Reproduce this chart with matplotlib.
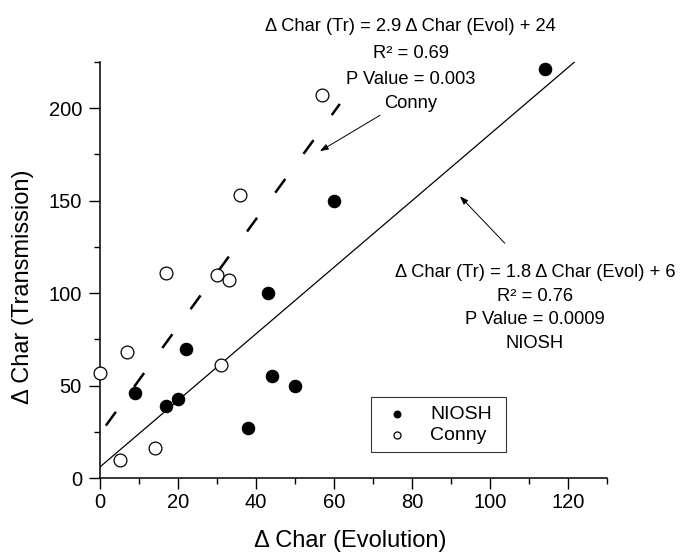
import matplotlib
matplotlib.use("Agg")
import matplotlib.pyplot as plt
import numpy as np
from matplotlib.ticker import MultipleLocator

plt.rcParams['font.family'] = ['Liberation Sans', 'DejaVu Sans']

# NIOSH samples
niosh_x = [9, 17, 20, 22, 38, 43, 44, 50, 60, 114]
niosh_y = [46, 39, 43, 70, 27, 100, 55, 50, 150, 221]

# Conny samples
conny_x = [0, 5, 7, 14, 17, 30, 31, 33, 36, 57]
conny_y = [57, 10, 68, 16, 111, 110, 61, 107, 153, 207]

# Regression fits: (slope, intercept, x range drawn)
niosh_fit = (1.8, 6, (0, 122))
conny_fit = (2.9, 24, (1.5, 61.5))

fig = plt.figure(figsize=(6.96, 5.55), dpi=100)
ax = fig.add_axes([0.1437, 0.1387, 0.7284, 0.7495])

ax.set_xlim(0, 130)
ax.set_ylim(0, 225)

# fit lines
xs = np.linspace(*niosh_fit[2], 50)
ax.plot(xs, niosh_fit[0] * xs + niosh_fit[1], color='black', lw=0.9, zorder=2)
xc = np.linspace(*conny_fit[2], 50)
ax.plot(xc, conny_fit[0] * xc + conny_fit[1], color='black', lw=1.8,
        linestyle=(0, (6.8, 12.4)), solid_capstyle='butt', dash_capstyle='butt', zorder=2)

ax.scatter(niosh_x, niosh_y, s=80, facecolor='black', edgecolor='black',
           linewidth=0.8, label='NIOSH', zorder=3, clip_on=False)
ax.scatter(conny_x, conny_y, s=85, facecolor='white', edgecolor='black',
           linewidth=0.9, label='Conny', zorder=3, clip_on=False)

# spines and ticks
for side in ('top', 'right'):
    ax.spines[side].set_visible(False)
for side in ('left', 'bottom'):
    ax.spines[side].set_linewidth(1.1)

ax.xaxis.set_major_locator(MultipleLocator(20))
ax.xaxis.set_minor_locator(MultipleLocator(10))
ax.yaxis.set_major_locator(MultipleLocator(50))
ax.yaxis.set_minor_locator(MultipleLocator(25))
ax.tick_params(which='major', direction='out', length=8, width=1.0, labelsize=14.5)
ax.tick_params(which='minor', direction='out', length=4, width=1.0)
ax.tick_params(axis='x', which='major', pad=3)
ax.tick_params(axis='y', which='major', pad=5)

ax.set_xlabel('Δ Char (Evolution)', fontsize=17)
ax.set_ylabel('Δ Char (Transmission)', fontsize=17)
ax.xaxis.set_label_coords(0.493, -0.125)
ax.yaxis.set_label_coords(-0.13, 0.459)

# annotations
txt_kw = dict(ha='center', va='center', fontsize=13.2, clip_on=False)
top_lines = ['Δ Char (Tr) = 2.9 Δ Char (Evol) + 24', 'R² = 0.69',
             'P Value = 0.003', 'Conny']
top_y = [244.3, 229.7, 215.7, 202.6]
for t, y in zip(top_lines, top_y):
    ax.text(79.7, y, t, **txt_kw)

bot_lines = ['Δ Char (Tr) = 1.8 Δ Char (Evol) + 6', 'R² = 0.76',
             'P Value = 0.0009', 'NIOSH']
bot_y = [111.4, 98.4, 85.9, 73.0]
for t, y in zip(bot_lines, bot_y):
    ax.text(111.5, y, t, **txt_kw)

arrow_kw = dict(arrowstyle='-|>,head_length=0.5,head_width=0.18', color='black',
                lw=0.7, shrinkA=0, shrinkB=0)
ax.annotate('', xy=(56.4, 176.8), xytext=(71.8, 196.2), arrowprops=arrow_kw)
ax.annotate('', xy=(92.3, 152.4), xytext=(103.8, 127.0), arrowprops=arrow_kw)

leg = ax.legend(loc='lower left', bbox_to_anchor=(0.534, 0.0625, 0.266, 0.142),
                mode='expand', borderaxespad=0, fancybox=False, edgecolor='black',
                fontsize=14, markerscale=0.55, handletextpad=0.75, borderpad=0.4,
                labelspacing=0.2, handlelength=1.9)
leg.get_frame().set_linewidth(0.8)

fig.savefig('out.png', dpi=100, facecolor='white')
